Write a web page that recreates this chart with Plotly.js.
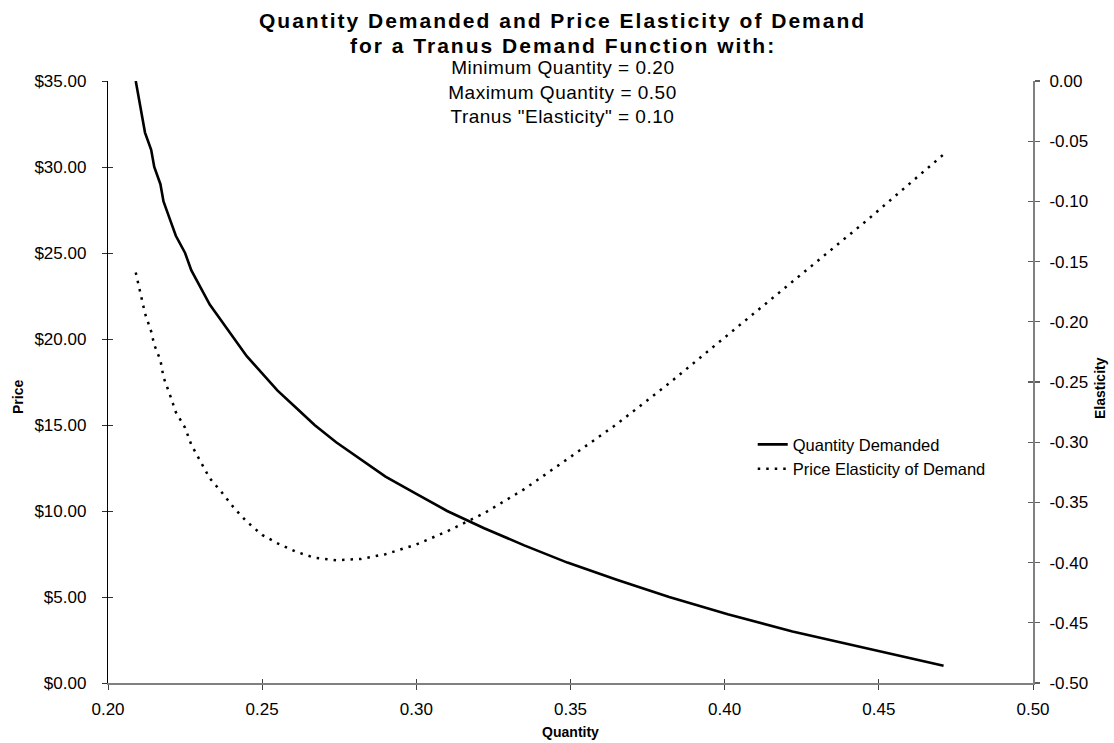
<!DOCTYPE html>
<html>
<head>
<meta charset="utf-8">
<script src="https://cdn.plot.ly/plotly-3.0.1.min.js"></script>
<style>
  html, body { margin: 0; padding: 0; background: #ffffff; }
  #chart { width: 1114px; height: 743px; }
  #chart g.annotation[data-index="0"] text.annotation-text,
  #chart g.annotation[data-index="1"] text.annotation-text { letter-spacing: 2px; }
  #chart g.annotation[data-index="2"] text.annotation-text,
  #chart g.annotation[data-index="3"] text.annotation-text,
  #chart g.annotation[data-index="4"] text.annotation-text { letter-spacing: 0.5px; }
</style>
</head>
<body>
<div id="chart"></div>
<script>
// Price levels ($) at which the demand function was evaluated
const prices = [35, 34, 33, 32, 31, 30, 29, 28, 27, 26, 25, 24, 23, 22, 21, 20, 19, 18,
                17, 16, 15, 14, 13, 12, 11, 10, 9, 8, 7, 6, 5, 4, 3, 2, 1];

// Quantity demanded at each price (x-axis)
const quantity = [0.209, 0.210, 0.211, 0.212, 0.214, 0.215, 0.217, 0.218, 0.220, 0.222,
                  0.225, 0.227, 0.230, 0.233, 0.237, 0.241, 0.245, 0.250, 0.255, 0.261,
                  0.267, 0.274, 0.282, 0.290, 0.300, 0.310, 0.322, 0.335, 0.349, 0.365,
                  0.382, 0.401, 0.422, 0.446, 0.471];

// Price elasticity of demand at each point (right axis)
const elasticity = [-0.159, -0.170, -0.183, -0.193, -0.208, -0.219, -0.232, -0.246, -0.260, -0.275,
                    -0.288, -0.302, -0.316, -0.330, -0.342, -0.355, -0.366, -0.377, -0.384, -0.391,
                    -0.396, -0.398, -0.397, -0.393, -0.385, -0.374, -0.359, -0.339, -0.314, -0.285,
                    -0.251, -0.211, -0.166, -0.116, -0.061];

// Tick labels
const xTickVals = [0.20, 0.25, 0.30, 0.35, 0.40, 0.45, 0.50];
const xTickText = ['0.20', '0.25', '0.30', '0.35', '0.40', '0.45', '0.50'];
const priceTickVals = [0, 5, 10, 15, 20, 25, 30, 35];
const priceTickText = ['$0.00', '$5.00', '$10.00', '$15.00', '$20.00', '$25.00', '$30.00', '$35.00'];
const elastTickVals = [-0.50, -0.45, -0.40, -0.35, -0.30, -0.25, -0.20, -0.15, -0.10, -0.05, 0.00];
const elastTickText = ['-0.50', '-0.45', '-0.40', '-0.35', '-0.30', '-0.25', '-0.20', '-0.15', '-0.10', '-0.05', '0.00'];

// Titles
const titleLines = ['Quantity Demanded and Price Elasticity of Demand', 'for a Tranus Demand Function with:'];
const subtitleLines = ['Minimum Quantity = 0.20', 'Maximum Quantity = 0.50', 'Tranus "Elasticity" = 0.10'];
const axisTitles = { x: 'Quantity', yLeft: 'Price', yRight: 'Elasticity' };

const FONT = 'Liberation Sans, Arial, Helvetica, sans-serif';

const traces = [
  {
    name: 'Quantity Demanded',
    x: quantity, y: prices,
    type: 'scatter', mode: 'lines',
    xaxis: 'x', yaxis: 'y',
    line: { color: '#000000', width: 2.6 },
    hoverinfo: 'x+y'
  },
  {
    name: 'Price Elasticity of Demand',
    x: quantity, y: elasticity,
    type: 'scatter', mode: 'lines',
    xaxis: 'x', yaxis: 'y2',
    line: { color: '#000000', width: 2.5, dash: '2.5px,6px' },
    hoverinfo: 'x+y'
  },
  // empty helper traces so the inner-tick overlay axes are drawn
  { x: [], y: [], xaxis: 'x2', yaxis: 'y3', type: 'scatter', mode: 'lines', showlegend: false, hoverinfo: 'skip' },
  { x: [], y: [], xaxis: 'x', yaxis: 'y4', type: 'scatter', mode: 'lines', showlegend: false, hoverinfo: 'skip' }
];

const tickFont = { family: FONT, size: 17, color: '#000000' };
const axisTitleFont = { family: FONT, size: 14, color: '#000000' };
const CX = 0.4915; // horizontal centre of the heading block (paper units)

function heading(text, y, size) {
  return { text: text, xref: 'paper', yref: 'paper', x: CX, y: y,
           xanchor: 'center', yanchor: 'middle', showarrow: false,
           font: { family: FONT, size: size, color: '#000000' } };
}

const layout = {
  width: 1114, height: 743,
  margin: { l: 108, r: 81, t: 81, b: 60, pad: 0 },
  paper_bgcolor: '#ffffff', plot_bgcolor: '#ffffff',
  font: { family: FONT, color: '#000000' },
  showlegend: true,
  legend: {
    x: 0.697, y: 0.425, xanchor: 'left', yanchor: 'top',
    bgcolor: 'rgba(0,0,0,0)', borderwidth: 0,
    font: { family: FONT, size: 16.5, color: '#000000' },
    tracegroupgap: 0
  },
  xaxis: {
    range: [0.2, 0.5], tickmode: 'array', tickvals: xTickVals, ticktext: xTickText,
    ticks: 'outside', ticklen: 5, tickwidth: 1, tickcolor: '#404040', ticklabelstandoff: 5,
    showline: true, linecolor: '#808080', linewidth: 1.5,
    showgrid: false, zeroline: false, tickfont: tickFont,
    title: { text: '<b>' + axisTitles.x + '</b>', font: axisTitleFont, standoff: 9 }
  },
  xaxis2: {
    overlaying: 'x', anchor: 'y', side: 'bottom', range: [0.2, 0.5],
    tickmode: 'array', tickvals: xTickVals, showticklabels: false,
    ticks: 'inside', ticklen: 4, tickwidth: 1, tickcolor: '#404040',
    showline: false, showgrid: false, zeroline: false
  },
  yaxis: {
    range: [0, 35], tickmode: 'array', tickvals: priceTickVals, ticktext: priceTickText,
    ticks: 'outside', ticklen: 5, tickwidth: 1, tickcolor: '#303030', ticklabelstandoff: 12,
    showline: true, linecolor: '#000000', linewidth: 1.2,
    showgrid: false, zeroline: false, tickfont: tickFont
  },
  yaxis3: {
    overlaying: 'y', anchor: 'x2', side: 'left', range: [0, 35],
    tickmode: 'array', tickvals: priceTickVals, showticklabels: false,
    ticks: 'inside', ticklen: 5, tickwidth: 1, tickcolor: '#303030',
    showline: false, showgrid: false, zeroline: false
  },
  yaxis2: {
    overlaying: 'y', side: 'right', anchor: 'x', range: [-0.5, 0],
    tickmode: 'array', tickvals: elastTickVals, ticktext: elastTickText,
    ticks: 'outside', ticklen: 5, tickwidth: 1.2, tickcolor: '#606060', ticklabelstandoff: 6,
    showline: true, linecolor: '#808080', linewidth: 2,
    showgrid: false, zeroline: false, tickfont: tickFont
  },
  yaxis4: {
    overlaying: 'y', side: 'right', anchor: 'x', range: [-0.5, 0],
    tickmode: 'array', tickvals: elastTickVals, showticklabels: false,
    ticks: 'inside', ticklen: 5, tickwidth: 1.2, tickcolor: '#606060',
    showline: false, showgrid: false, zeroline: false
  },
  annotations: [
    heading('<b>' + titleLines[0] + '</b>', 1.0997, 21),
    heading('<b>' + titleLines[1] + '</b>', 1.0590, 21),
    heading(subtitleLines[0], 1.0216, 19),
    heading(subtitleLines[1], 0.9817, 19),
    heading(subtitleLines[2], 0.9402, 19),
    { text: '<b>' + axisTitles.yLeft + '</b>', xref: 'paper', yref: 'paper', x: -0.0973, y: 0.4751,
      xanchor: 'center', yanchor: 'middle', textangle: -90, showarrow: false, font: axisTitleFont },
    { text: '<b>' + axisTitles.yRight + '</b>', xref: 'paper', yref: 'paper', x: 1.0724, y: 0.490,
      xanchor: 'center', yanchor: 'middle', textangle: -90, showarrow: false, font: axisTitleFont }
  ]
};

Plotly.newPlot('chart', traces, layout, { staticPlot: true, displayModeBar: false });
</script>
</body>
</html>
